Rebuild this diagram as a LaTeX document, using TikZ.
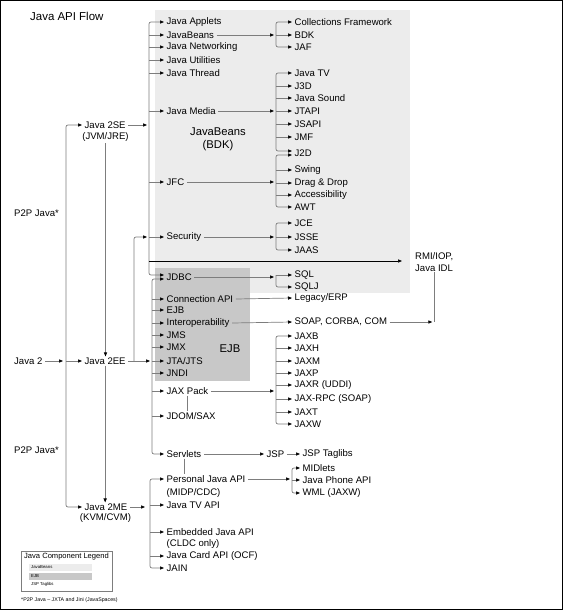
\documentclass[tikz,border=0pt]{standalone}
\usepackage{fontspec}
\setmainfont{Liberation Sans}
\usetikzlibrary{arrows.meta}
\definecolor{beanFill}{RGB}{236,236,236}
\definecolor{ejbFill}{RGB}{200,200,200}
\definecolor{wireGray}{RGB}{125,125,125}
\newcommand{\itemsize}{\fontsize{9.6}{12}\selectfont}
\newcommand{\titlesize}{\fontsize{11.5}{13}\selectfont}
\newcommand{\areasize}{\fontsize{11.3}{13}\selectfont}
\newcommand{\legsize}{\fontsize{7.6}{9}\selectfont}
\newcommand{\legtiny}{\fontsize{4.3}{5}\selectfont}
\newcommand{\footsize}{\fontsize{5.3}{6}\selectfont}

\begin{document}
\begin{tikzpicture}[x=1bp, y=-1bp,
  every node/.style={font=\itemsize, inner sep=1bp},
  item/.style={anchor=west, inner xsep=2.5bp},
  wire/.style={draw=wireGray, line width=0.7bp},
  arr/.style={wire, -{Triangle[length=4bp, width=3.2bp, color=black]}},
  rc/.style={rounded corners=2bp}]
  \useasboundingbox (0,0) rectangle (563,610);
  \draw[line width=1bp] (0.5,0.5) rectangle (562.5,609.5);
  % ---------------- AREAS ----------------
  \fill[beanFill] (155,10) rectangle (410,293);
  \fill[ejbFill] (155,268) rectangle (250,381);
  \node[font=\areasize, align=center] (beanArea) at (218,139) {JavaBeans\\(BDK)};
  \node[font=\areasize] (ejbArea) at (230,349) {EJB};
  \node[font=\titlesize, anchor=west] (title) at (29,16) {Java API Flow};
  % ---------------- LEFT ----------------
  \node[item] (p2pTop) at (11.5,213) {P2P Java*};
  \node[item] (java2) at (11.5,361) {Java 2};
  \node[item] (p2pLow) at (11.5,450) {P2P Java*};
  \node[item] (j2se) at (82,125) {Java 2SE};
  \node (jvm) at (105.5,137.5) {(JVM/JRE)};
  \node[item] (j2ee) at (82,361) {Java 2EE};
  \node[item] (j2me) at (82,507) {Java 2ME};
  \node (kvm) at (105.5,518) {(KVM/CVM)};
  \coordinate (tk) at (66,0);
  \draw[arr, shorten >=3bp] (java2.east) -- (tk |- java2.east);
  \draw[arr, rc] (tk |- j2ee.west) |- (j2se.west);
  \draw[arr, rc] (tk |- j2ee.west) |- (j2me.west);
  \draw[arr] (tk |- j2ee.west) -- (j2ee.west);
  \draw[arr] (jvm.south) -- (jvm.south |- j2ee.north);
  \draw[arr] (j2ee.south) -- (j2ee.south |- j2me.north);
  % ---------------- J2SE ----------------
  \node[item] (applets) at (164,22) {Java Applets};
  \node[item] (beans) at (164,35) {JavaBeans};
  \node[item] (net) at (164,47) {Java Networking};
  \node[item] (util) at (164,60) {Java Utilities};
  \node[item] (thread) at (164,73) {Java Thread};
  \node[item] (media) at (164,111) {Java Media};
  \node[item] (jfc) at (164,182) {JFC};
  \node[item] (sec) at (164,237) {Security};
  \node[item] (jdbc) at (164,277) {JDBC};
  \coordinate (seX) at (149,0);
  \draw[arr, shorten >=2bp] (j2se.east) -- (seX |- j2se.east);
  \draw[arr, rc] (seX |- media.west) |- (applets.west);
  \draw[arr, rc] (seX |- media.west) |- ([yshift=2bp]jdbc.west);
  \foreach \n in {beans,net,util,thread,media,jfc,sec}
    \draw[arr] (seX |- \n.west) -- (\n.west);
  % ---------------- J2EE ----------------
  \node[item] (conn) at (164,299) {Connection API};
  \node[item] (ejb) at (164,310) {EJB};
  \node[item] (interop) at (164,323) {Interoperability};
  \node[item] (jms) at (164,335) {JMS};
  \node[item] (jmx) at (164,347) {JMX};
  \node[item] (jta) at (164,361) {JTA/JTS};
  \node[item] (jndi) at (164,373) {JNDI};
  \node[item] (jaxpack) at (164,391) {JAX Pack};
  \node[item] (jdom) at (164,416) {JDOM/SAX};
  \node[item] (servlets) at (164,454) {Servlets};
  \coordinate (eeX) at (152,0);
  \coordinate (secX) at (134,0);
  \draw[arr, shorten >=2bp] (j2ee.east) -- (eeX |- j2ee.east);
  \draw[arr, rc, shorten >=2bp] (secX |- j2ee.east) |- (seX |- sec.west);
  \draw[arr, rc] (eeX |- jta.west) |- ([yshift=-2bp]jdbc.west);
  \draw[arr, rc] (eeX |- jta.west) |- (servlets.west);
  \foreach \n in {conn,ejb,interop,jms,jmx,jta,jndi,jaxpack,jdom}
    \draw[arr] (eeX |- \n.west) -- (\n.west);
  \draw[wire] (jaxpack.south) -- (jaxpack.south |- jdom.north);
  \draw[wire] (servlets.south) -- (servlets.south |- 0,474);
  % ---------------- J2ME ----------------
  \node[item] (personal) at (164,479) {Personal Java API};
  \node[item] (midp) at (164,493) {(MIDP/CDC)};
  \node[item] (tvapi) at (164,505) {Java TV API};
  \node[item] (embedded) at (164,532) {Embedded Java API};
  \node[item] (cldc) at (164,544) {(CLDC only)};
  \node[item] (card) at (164,556) {Java Card API (OCF)};
  \node[item] (jain) at (164,568) {JAIN};
  \coordinate (meX) at (150,0);
  \draw[arr, shorten >=5bp] (j2me.east) -- (meX |- j2me.east);
  \draw[arr, rc] (meX |- tvapi.west) |- (personal.west);
  \draw[arr, rc] (meX |- tvapi.west) |- (jain.west);
  \foreach \n in {tvapi,embedded,card}
    \draw[arr] (meX |- \n.west) -- (\n.west);
  % ---------------- RIGHT COLUMN ----------------
  \node[item] (coll) at (292,22) {Collections Framework};
  \node[item] (bdk) at (292,35) {BDK};
  \node[item] (jaf) at (292,47) {JAF};
  \node[item] (javatv) at (292,73) {Java TV};
  \node[item] (jthreed) at (292,86) {J3D};
  \node[item] (sound) at (292,98) {Java Sound};
  \node[item] (jtapi) at (292,111) {JTAPI};
  \node[item] (jsapi) at (292,124) {JSAPI};
  \node[item] (jmf) at (292,137) {JMF};
  \node[item] (jtwod) at (292,153) {J2D};
  \node[item] (swing) at (292,170) {Swing};
  \node[item] (dnd) at (292,183) {Drag \& Drop};
  \node[item] (access) at (292,195) {Accessibility};
  \node[item] (awt) at (292,207) {AWT};
  \node[item] (jce) at (292,223) {JCE};
  \node[item] (jsse) at (292,237) {JSSE};
  \node[item] (jaas) at (292,250) {JAAS};
  \node[item] (sql) at (292,275) {SQL};
  \node[item] (sqlj) at (292,287) {SQLJ};
  \node[item] (legacy) at (292,298) {Legacy/ERP};
  \node[item] (soap) at (292,322) {SOAP, CORBA, COM};
  \node[item] (jaxb) at (292,336) {JAXB};
  \node[item] (jaxh) at (292,348) {JAXH};
  \node[item] (jaxm) at (292,361) {JAXM};
  \node[item] (jaxp) at (292,373) {JAXP};
  \node[item] (jaxr) at (292,385) {JAXR (UDDI)};
  \node[item] (jaxrpc) at (292,399) {JAX-RPC (SOAP)};
  \node[item] (jaxt) at (292,412) {JAXT};
  \node[item] (jaxw) at (292,424) {JAXW};
  \coordinate (bx) at (276,0);
  % JavaBeans
  \draw[arr, shorten >=2bp] (beans.east) -- (bx |- beans.east);
  \draw[arr, rc] (bx |- beans.east) |- (coll.west);
  \draw[arr, rc] (bx |- beans.east) |- (jaf.west);
  \draw[arr] (bx |- bdk.west) -- (bdk.west);
  % Java Media
  \draw[arr, shorten >=2bp] (media.east) -- (bx |- media.east);
  \draw[arr, rc] (bx |- media.east) |- (javatv.west);
  \draw[arr, rc] (bx |- media.east) |- ([yshift=2bp]jtwod.west);
  \foreach \n in {jthreed,sound,jtapi,jsapi,jmf}
    \draw[arr] (bx |- \n.west) -- (\n.west);
  % JFC
  \draw[arr, shorten >=2bp] (jfc.east) -- (bx |- jfc.east);
  \draw[arr, rc] (bx |- jfc.east) |- ([yshift=-2bp]jtwod.west);
  \draw[arr, rc] (bx |- jfc.east) |- (awt.west);
  \foreach \n in {swing,dnd,access}
    \draw[arr] (bx |- \n.west) -- (\n.west);
  % Security
  \draw[arr, shorten >=2bp] (sec.east) -- (bx |- sec.east);
  \draw[arr, rc] (bx |- sec.east) |- (jce.west);
  \draw[arr, rc] (bx |- sec.east) |- (jaas.west);
  \draw[arr] (bx |- jsse.west) -- (jsse.west);
  % JDBC
  \draw[arr, shorten >=2bp] (jdbc.east) -- (bx |- jdbc.east);
  \draw[arr] (bx |- sql.west) -- (sql.west);
  \draw[arr, rc] (bx |- sql.west) |- (sqlj.west);
  % Connection, Interoperability
  \draw[arr] (conn.east) -- (legacy.west);
  \draw[arr] (interop.east) -- (soap.west);
  % JAX Pack
  \draw[arr, shorten >=2bp] (jaxpack.east) -- (bx |- jaxpack.east);
  \draw[arr, rc] (bx |- jaxpack.east) |- (jaxb.west);
  \draw[arr, rc] (bx |- jaxpack.east) |- (jaxw.west);
  \foreach \n in {jaxh,jaxm,jaxp,jaxr,jaxrpc,jaxt}
    \draw[arr] (bx |- \n.west) -- (\n.west);
  % ---------------- RMI ----------------
  \node[align=left, anchor=north west, font=\fontsize{9.6}{12}\selectfont] (rmi) at (414,251) {RMI/IOP,\\Java IDL};
  \coordinate (rmiIn) at (402,261);
  \draw[arr, draw=black] (seX |- rmiIn) -- (rmiIn);
  \draw[wire] (rmi.south) -- (rmi.south |- soap.east);
  \draw[arr, shorten >=2bp] (soap.east) -- (rmi.south |- soap.east);
  % ---------------- SERVLETS / PERSONAL ----------------
  \node[item] (jsp) at (264,454) {JSP};
  \node[item] (taglibs) at (300,454) {JSP Taglibs};
  \node[item] (midlets) at (300,468) {MIDlets};
  \node[item] (phone) at (300,480) {Java Phone API};
  \node[item] (wml) at (300,493) {WML (JAXW)};
  \draw[arr] (servlets.east) -- (jsp.west);
  \draw[arr] (jsp.east) -- (taglibs.west);
  \coordinate (px) at (292,0);
  \draw[arr, shorten >=2bp] (personal.east) -- (px |- personal.east);
  \draw[arr, rc] (px |- phone.west) |- (midlets.west);
  \draw[arr, rc] (px |- phone.west) |- (wml.west);
  \draw[arr] (px |- phone.west) -- (phone.west);
  % ---------------- LEGEND ----------------
  \draw[wireGray, line width=0.5bp] (21,551) rectangle (112,591);
  \node[font=\legsize, anchor=west] (legTitle) at (23,557) {Java Component Legend};
  \fill[beanFill] (29,564) rectangle (92,571);
  \fill[ejbFill] (29,572.5) rectangle (92,579.5);
  \node[font=\legtiny, anchor=west] (legBeans) at (30,567.5) {JavaBeans};
  \node[font=\legtiny, anchor=west] (legEjb) at (30,576) {EJB};
  \node[font=\legtiny, anchor=west] (legTag) at (30,584) {JSP Taglibs};
  \node[font=\footsize, anchor=west] (foot) at (20,600) {*P2P Java -- JXTA and Jini (JavaSpaces)};
\end{tikzpicture}
\end{document}
